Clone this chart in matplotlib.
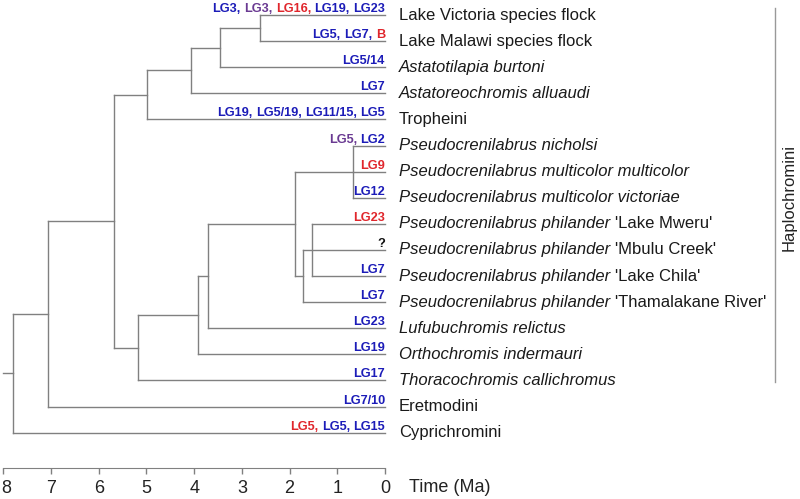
import matplotlib
matplotlib.use("Agg")
import matplotlib.pyplot as plt
import matplotlib.transforms as mtransforms
from matplotlib.offsetbox import TextArea, HPacker, AnnotationBbox

plt.rcParams['font.family'] = ['Liberation Sans', 'DejaVu Sans']

# tips, top to bottom
tip_names = ["Lake Victoria species flock", "Lake Malawi species flock",
             "Astatotilapia burtoni", "Astatoreochromis alluaudi", "Tropheini",
             "Pseudocrenilabrus nicholsi", "Pseudocrenilabrus multicolor multicolor",
             "Pseudocrenilabrus multicolor victoriae",
             "Pseudocrenilabrus philander", "Pseudocrenilabrus philander",
             "Pseudocrenilabrus philander", "Pseudocrenilabrus philander",
             "Lufubuchromis relictus", "Orthochromis indermauri",
             "Thoracochromis callichromus", "Eretmodini", "Cyprichromini"]
tip_extra = ["", "", "", "", "", "", "", "",
             "'Lake Mweru'", "'Mbulu Creek'", "'Lake Chila'", "'Thamalakane River'",
             "", "", "", "", ""]
tip_italic = [False, False, True, True, False, True, True, True,
              True, True, True, True, True, True, True, False, False]

# sex-determination linkage groups at each tip
lg_text = [["LG3,", "LG3,", "LG16,", "LG19,", "LG23"],
           ["LG5,", "LG7,", "B"],
           ["LG5/14"],
           ["LG7"],
           ["LG19,", "LG5/19,", "LG11/15,", "LG5"],
           ["LG5,", "LG2"],
           ["LG9"],
           ["LG12"],
           ["LG23"],
           ["?"],
           ["LG7"],
           ["LG7"],
           ["LG23"],
           ["LG19"],
           ["LG17"],
           ["LG7/10"],
           ["LG5,", "LG5,", "LG15"]]
lg_col = [["b", "p", "r", "b", "b"],
          ["b", "b", "r"],
          ["b"], ["b"],
          ["b", "b", "b", "b"],
          ["p", "b"],
          ["r"], ["b"], ["r"], ["k"], ["b"], ["b"], ["b"], ["b"], ["b"], ["b"],
          ["r", "b", "b"]]
colors = {"b": "#1c1cb8", "p": "#6a3a92", "r": "#e0262c", "k": "#111111"}

# internal nodes: age (Ma) and children (tip index or node name)
node_names = ["lvlm", "burt", "allu", "troph", "hap", "pmult", "philA", "philB",
              "pseudo", "lufu", "ortho", "thor", "eret", "root"]
node_ages = [2.62, 3.46, 4.07, 4.99, 5.68, 0.67, 1.53, 1.72,
             1.89, 3.71, 3.92, 5.18, 7.07, 7.80]
node_children = [[0, 1], ["lvlm", 2], ["burt", 3], ["allu", 4], ["troph", "thor"],
                 [5, 6, 7], [8, 10], [9, 11], ["pmult", "philB"], ["pseudo", 12],
                 ["lufu", 13], ["ortho", 14], ["hap", 15], ["eret", 16]]
root_stub = 8.0

ages = dict(zip(node_names, node_ages))
kids = dict(zip(node_names, node_children))


def ypos(c):
    if isinstance(c, int):
        return float(c)
    ys = [ypos(k) for k in kids[c]]
    return (min(ys) + max(ys)) / 2


def age(c):
    return 0.0 if isinstance(c, int) else ages[c]


fig = plt.figure(figsize=(8, 4.99), dpi=100)
ax = fig.add_axes([3.3 / 800, 31 / 499, 381.7 / 800, 468 / 499])
ax.set_xlim(8, 0)
ax.set_ylim(17.356, -0.575)

lc = "#808080"
for n in node_names:
    ys = [ypos(k) for k in kids[n]]
    ax.plot([ages[n], ages[n]], [min(ys), max(ys)], color=lc, lw=1.0, clip_on=False)
    for k in kids[n]:
        ax.plot([ages[n], age(k)], [ypos(k), ypos(k)], color=lc, lw=1.0, clip_on=False)
ax.plot([root_stub, ages["root"]], [ypos("root"), ypos("root")], color=lc, lw=1.0, clip_on=False)

# tip labels
for i in range(len(tip_names)):
    parts = [TextArea(t, textprops=dict(color=colors[c], fontsize=9.2, fontweight="bold"))
             for t, c in zip(lg_text[i], lg_col[i])]
    box = HPacker(children=parts, align="baseline", pad=0, sep=2.5)
    ab = AnnotationBbox(box, (0, i), xycoords="data", box_alignment=(1, 0),
                        frameon=False, pad=0, annotation_clip=False)
    ax.add_artist(ab)

    style = "italic" if tip_italic[i] else "normal"
    nparts = [TextArea(tip_names[i], textprops=dict(color="#1a1a1a", fontsize=12, fontstyle=style))]
    if tip_extra[i]:
        nparts.append(TextArea(tip_extra[i], textprops=dict(color="#1a1a1a", fontsize=12)))
    nbox = HPacker(children=nparts, align="baseline", pad=0, sep=3.3)
    ab = AnnotationBbox(nbox, (0, i), xycoords="data", xybox=(10, 0),
                        boxcoords="offset points", box_alignment=(0, 0.5),
                        frameon=False, pad=0, annotation_clip=False)
    ax.add_artist(ab)

# Haplochromini bracket
clade_top, clade_bottom = 0, 14
tr = mtransforms.blended_transform_factory(fig.transFigure, ax.transData)
ax.plot([775 / 800, 775 / 800], [clade_top - 0.27, clade_bottom + 0.06], color="#999999",
        lw=1.0, transform=tr, clip_on=False)
ax.text(789 / 800, (clade_top + clade_bottom) / 2, "Haplochromini", rotation=90,
        ha="center", va="center", fontsize=12, color="#222222", transform=tr)

# time axis
for s in ["top", "left", "right"]:
    ax.spines[s].set_visible(False)
ax.spines["bottom"].set_color(lc)
ax.set_yticks([])
ax.set_xticks(range(0, 9))
ax.tick_params(axis="x", direction="out", length=4.5, width=1.0, color=lc,
               labelsize=13, labelcolor="#222222", pad=4)
ax.patch.set_alpha(0)
fig.canvas.draw()
# keep the leftmost tick label inside the picture
for lab in ax.get_xticklabels():
    if lab.get_text() == "8":
        lab.set_transform(lab.get_transform() +
                          mtransforms.ScaledTranslation(2.5 / 100, 0, fig.dpi_scale_trans))
fig.text(409 / 800, 1 - 488 / 499, "Time (Ma)", ha="left", va="center",
         fontsize=13, color="#222222")

fig.savefig("out.png", dpi=100)
